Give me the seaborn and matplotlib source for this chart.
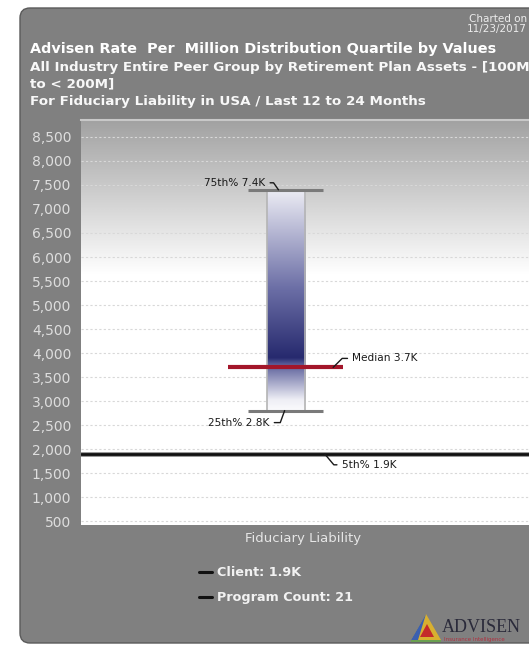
import numpy as np
import pandas as pd
import matplotlib
matplotlib.use("Agg")
import matplotlib.pyplot as plt
import seaborn as sns
from matplotlib.patches import FancyBboxPatch, Polygon
from matplotlib.transforms import IdentityTransform
from matplotlib.colors import LinearSegmentedColormap
from matplotlib.ticker import FuncFormatter

# Distribution values (rate per million)
categories = ["Fiduciary Liability"]
p75 = [7400]
median = [3700]
p25 = [2800]
p5 = [1900]
client_label = "Client: 1.9K"
program_count = 21
y_ticks = [500, 1000, 1500, 2000, 2500, 3000, 3500, 4000, 4500,
           5000, 5500, 6000, 6500, 7000, 7500, 8000, 8500]

sns.set_theme(style="white")
plt.rcParams["font.family"] = ["DejaVu Sans"]

W, H = 529, 645
fig = plt.figure(figsize=(W / 100, H / 100), dpi=100)
fig.patch.set_facecolor("white")

# Grey rounded panel behind everything
panel = FancyBboxPatch((20, 2), 540, 635, boxstyle="round,pad=0,rounding_size=10",
                       transform=IdentityTransform(), facecolor="#808080",
                       edgecolor="#5a5a5a", linewidth=1.0, zorder=0)
fig.add_artist(panel)

ax = fig.add_axes([81 / W, (H - 525) / H, 452 / W, 405 / H])
ax.set_facecolor("white")

df = pd.DataFrame({"category": categories,
                   "span": np.array(p75) - np.array(p25)})
sns.barplot(data=df, x="category", y="span", ax=ax, width=0.8,
            color="white", edgecolor="#b4b4b4", linewidth=1.2, zorder=3)

ax.set_xlim(-4.3, 5.2)
ax.set_ylim(417, 8854)

# Plot-area background: grey at the top fading to white
bg = LinearSegmentedColormap.from_list(
    "bg", [(0.0, "#ffffff"), (0.62, "#ffffff"), (1.0, "#a2a2a2")])
grad = np.linspace(0, 1, 256).reshape(-1, 1)
ax.imshow(grad, cmap=bg, origin="lower", extent=[0, 1, 0, 1],
          transform=ax.transAxes, aspect="auto", zorder=0)

# Float the bar between the 25th and 75th percentiles and fill with gradient
bar_cmap = LinearSegmentedColormap.from_list(
    "bar", [(0.0, "#fbfbfd"), (0.05, "#eeeef5"), (0.21, "#5a5e9a"),
            (0.24, "#26296e"), (0.55, "#6a6da5"), (1.0, "#ececf4")])
for patch, lo, hi in zip(ax.patches, p25, p75):
    patch.set_y(lo)
    patch.set_facecolor("none")
    x0 = patch.get_x()
    w = patch.get_width()
    im = ax.imshow(np.linspace(0, 1, 256).reshape(-1, 1), cmap=bar_cmap,
                   origin="lower", extent=[x0, x0 + w, lo, hi],
                   aspect="auto", zorder=2)
    im.set_clip_path(patch)

ax.set_xlim(-4.3, 5.2)
ax.set_ylim(417, 8854)

# Dotted grid
ax.set_yticks(y_ticks)
ax.yaxis.grid(True, linestyle=(0, (2, 2)), color="#d8d8d8", linewidth=0.8)
ax.set_axisbelow(True)
for gl in ax.get_ygridlines():
    gl.set_zorder(1)

xc = 0
# Quartile caps and median
ax.hlines(p75, xc - 0.78, xc + 0.78, color="#7a7a7a", linewidth=2.2, zorder=4)
ax.hlines(p25, xc - 0.78, xc + 0.78, color="#7a7a7a", linewidth=2.2, zorder=4)
ax.hlines(median, xc - 1.22, xc + 1.20, color="#a3162a", linewidth=3.0, zorder=5)
# 5th percentile reference line
ax.axhline(p5[0], color="#9a9a9a", linewidth=3.6, zorder=4)
ax.axhline(p5[0], color="#111111", linewidth=2.0, zorder=4)

lab_kw = dict(fontsize=7.6, color="#1a1a1a", zorder=6,
              textcoords="offset pixels")


def leader(angle_b):
    return dict(arrowstyle="-", color="#1a1a1a", lw=1.0, shrinkA=1, shrinkB=0,
                connectionstyle=f"angle,angleA=0,angleB={angle_b},rad=0")


ax.annotate(f"75th% {p75[0]/1000:.1f}K", xy=(xc - 0.15, p75[0]),
            xytext=(-13, 7), ha="right", va="center",
            arrowprops=leader(-55), **lab_kw)
ax.annotate(f"Median {median[0]/1000:.1f}K", xy=(xc + 1.0, median[0]),
            xytext=(19, 9), ha="left", va="center",
            arrowprops=leader(45), **lab_kw)
ax.annotate(f"25th% {p25[0]/1000:.1f}K", xy=(xc - 0.02, p25[0]),
            xytext=(-15, -12), ha="right", va="center",
            arrowprops=leader(70), **lab_kw)
ax.annotate(f"5th% {p5[0]/1000:.1f}K", xy=(xc + 0.82, p5[0]),
            xytext=(17, -11), ha="left", va="center",
            arrowprops=leader(-50), **lab_kw)

# Axes styling
ax.yaxis.set_major_formatter(FuncFormatter(lambda v, _: f"{int(v):,}"))
ax.tick_params(axis="y", length=0, pad=7, labelsize=10, labelcolor="#dedede")
ax.set_xticks([])
ax.set_xlabel(categories[0], fontsize=9.5, color="#e6e6e6", labelpad=5)
ax.xaxis.label.set_position((222 / 452, 0))
ax.set_ylabel("")
for s in ax.spines.values():
    s.set_visible(False)
ax.spines["top"].set_visible(True)
ax.spines["top"].set_color("#c8c8c8")
ax.spines["top"].set_linewidth(1.5)


# Titles
def ftext(x, y, s, **kw):
    fig.text(x / W, 1 - y / H, s, **kw)


ftext(30, 49, "Advisen Rate  Per  Million Distribution Quartile by Values",
      fontsize=10.4, fontweight="bold", color="white", va="center")
sub_kw = dict(fontsize=9.7, fontweight="bold", color="#f8f8f8", va="center")
ftext(30, 67, "All Industry Entire Peer Group by Retirement Plan Assets - [100M", **sub_kw)
ftext(30, 84, "to < 200M]", **sub_kw)
ftext(30, 101, "For Fiduciary Liability in USA / Last 12 to 24 Months", **sub_kw)
ftext(527, 19, "Charted on", fontsize=7.5, color="#ececec", va="center", ha="right")
ftext(527, 29, "11/23/2017", fontsize=7.5, color="#ececec", va="center", ha="right")

# Legend-like notes
leg_kw = dict(fontsize=9.2, fontweight="bold", color="#f2f2f2", va="center")
for yy, txt in [(572, client_label), (597, f"Program Count: {program_count}")]:
    fig.add_artist(plt.Line2D([199 / W, 212 / W], [1 - yy / H, 1 - yy / H],
                              color="#111111", linewidth=2.2))
    ftext(217, yy, txt, **leg_kw)


# Logo mark
def tpix(pts):
    return [(x / W, 1 - y / H) for x, y in pts]


fig.add_artist(Polygon(tpix([(411, 640), (441, 640), (426, 614)]),
                       closed=True, transform=fig.transFigure,
                       facecolor="#d8b030", edgecolor="none"))
fig.add_artist(Polygon(tpix([(411, 640), (426, 614), (418, 640)]),
                       closed=True, transform=fig.transFigure,
                       facecolor="#3a5fb0", edgecolor="none"))
fig.add_artist(Polygon(tpix([(420, 637), (434, 637), (427, 624)]),
                       closed=True, transform=fig.transFigure,
                       facecolor="#c42a2a", edgecolor="none"))
fig.add_artist(Polygon(tpix([(411, 640), (441, 640), (441, 642), (411, 642)]),
                       closed=True, transform=fig.transFigure,
                       facecolor="#6aa050", edgecolor="none"))
ftext(442, 627, "ADVISEN", fontsize=13, family="Liberation Serif",
      color="#2a2a3a", va="center")
ftext(444, 639, "Insurance Intelligence", fontsize=4, color="#b03040", va="center")

fig.savefig("out.png", dpi=100, facecolor=fig.get_facecolor())
